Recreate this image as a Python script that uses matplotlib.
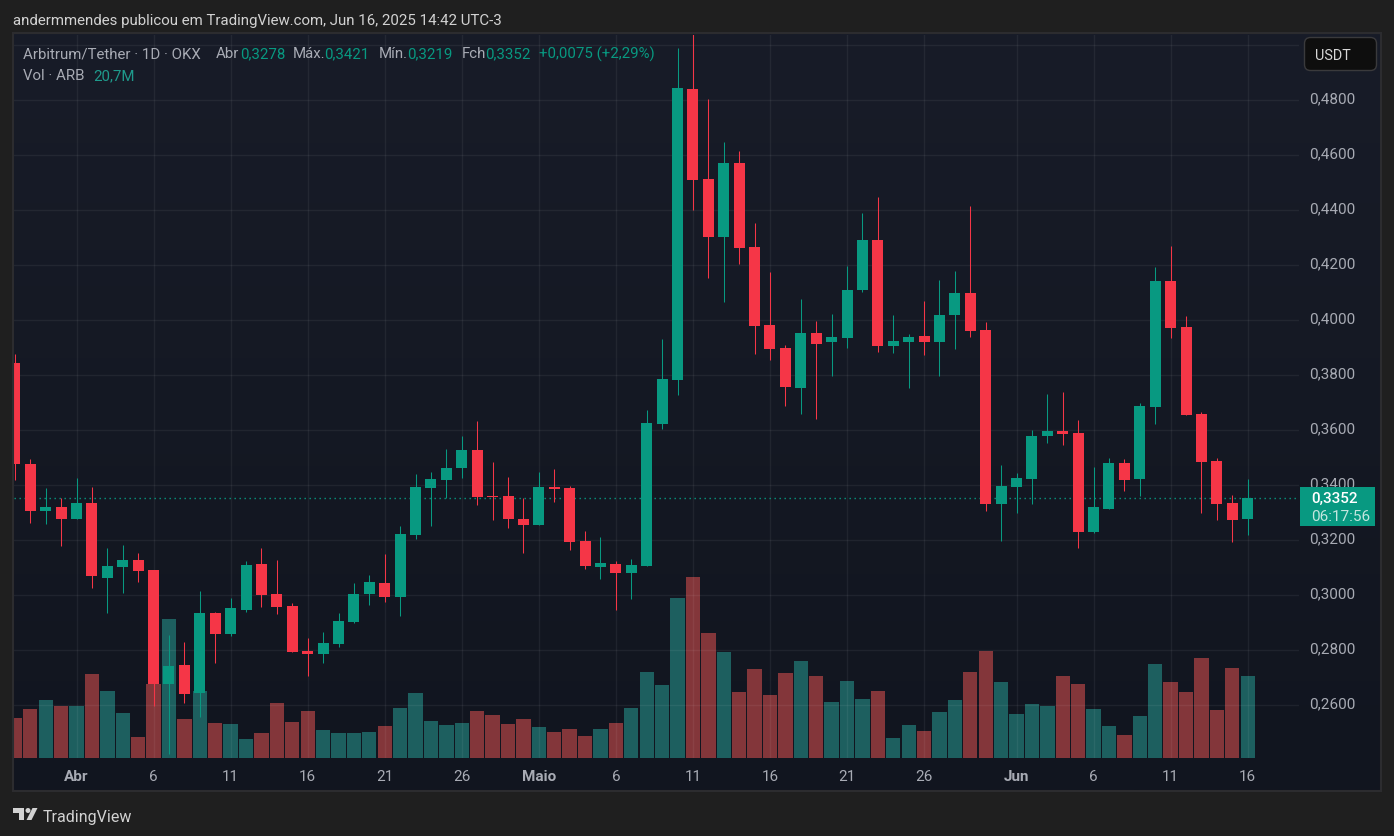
import numpy as np
import matplotlib
matplotlib.use("Agg")
import matplotlib.pyplot as plt
from matplotlib.patches import Rectangle, FancyBboxPatch, Polygon, Circle
from matplotlib.transforms import IdentityTransform, ScaledTranslation

# Daily ARB/USDT candles, Mar 28 - Jun 16 2025
opens = [.3845, .3478, .3307, .3321, .3278, .3336, .3063, .3103, .3128, .3092,
         .2678, .2747, .2645, .2936, .2859, .2947, .3114, .3005, .2961, .2798,
         .2787, .2823, .2903, .3005, .3045, .2994, .3219, .3390, .3419, .3463,
         .3528, .3361, .3361, .3278,
         .3256, .3394, .3390, .3198, .3103, .3114, .3081, .3107, .3623, .3783,
         .4841, .4514, .4303, .4572, .4267, .3983, .3899, .3754, .3954, .3921,
         .3936, .4110, .4292, .3907, .3921, .3943, .3921, .4019, .4099, .3965, .3332,
         .3394, .3423, .3579, .3598, .3590, .3230, .3314, .3481, .3423, .3685,
         .4143, .3976, .3659, .3488, .3336, .3278]
highs = [.3878, .3496, .3390, .3354, .3427, .3394, .3172, .3183, .3154, .3092,
         .2856, .2830, .3016, .2939, .2990, .3125, .3172, .3128, .2972, .2845,
         .2867, .2936, .3045, .3074, .3150, .3252, .3441, .3448, .3532, .3579,
         .3634, .3485, .3430, .3354,
         .3448, .3459, .3398, .3234, .3212, .3125, .3132, .3674, .3932, .4990,
         .5041, .4805, .4648, .4616, .4354, .4176, .3910, .4078, .3998, .4023,
         .4198, .4390, .4448, .4019, .3950, .4070, .4147, .4179, .4416, .3994, .3474,
         .3445, .3601, .3732, .3739, .3638, .3467, .3499, .3496, .3699, .4194,
         .4270, .4016, .3667, .3499, .3365, .3421]
lows = [.3419, .3263, .3259, .3179, .3278, .3027, .2936, .3008, .3048, .2598,
        .2423, .2608, .2558, .2754, .2852, .2939, .2958, .2932, .2794, .2707,
        .2754, .2812, .2899, .2965, .2976, .2925, .3205, .3252, .3354, .3427,
        .3328, .3274, .3245, .3154,
        .3256, .3339, .3165, .3096, .3059, .2947, .2987, .3107, .3605, .3728,
        .4401, .4154, .4067, .4205, .3878, .3856, .3688, .3659, .3641, .3798,
        .3899, .4103, .3885, .3881, .3754, .3874, .3798, .3896, .3939, .3307, .3198,
        .3299, .3332, .3554, .3547, .3172, .3227, .3314, .3379, .3361, .3623,
        .3936, .3656, .3299, .3274, .3194, .3219]
closes = [.3478, .3307, .3321, .3278, .3336, .3070, .3107, .3128, .3088, .2678,
          .2743, .2641, .2936, .2859, .2954, .3110, .3001, .2958, .2794, .2787,
          .2827, .2907, .3005, .3048, .2994, .3223, .3394, .3423, .3463, .3528,
          .3358, .3358, .3278, .3256,
          .3394, .3387, .3194, .3107, .3118, .3081, .3110, .3627, .3787, .4845,
          .4510, .4303, .4572, .4263, .3979, .3896, .3758, .3954, .3914, .3939,
          .4110, .4292, .3907, .3925, .3939, .3921, .4019, .4099, .3961, .3332, .3398,
          .3427, .3579, .3598, .3587, .3230, .3321, .3481, .3419, .3688, .4143,
          .3972, .3656, .3485, .3332, .3274, .3352]
# volume in millions of ARB
volumes = [10.1, 12.4, 14.6, 13.1, 13.1, 21.2, 16.9, 11.4, 5.3, 18.7,
           35.1, 9.8, 16.9, 8.8, 8.6, 4.8, 6.3, 13.9, 9.1, 11.9,
           7.1, 6.3, 6.3, 6.6, 8.1, 12.6, 16.4, 9.3, 8.3, 8.8,
           11.9, 10.9, 8.6, 9.8,
           7.8, 6.6, 7.3, 5.6, 7.3, 8.8, 12.6, 21.7, 18.4, 40.4,
           45.7, 31.6, 26.8, 16.7, 22.5, 15.9, 21.5, 24.5, 20.7, 14.1,
           19.4, 14.9, 16.9, 5.1, 8.3, 6.8, 11.6, 14.6, 21.7, 27.0, 19.2,
           11.1, 13.6, 13.1, 20.7, 18.7, 12.4, 8.1, 5.8, 10.6, 23.7,
           19.2, 16.7, 25.3, 12.1, 22.7, 20.7]

price_ticks = [.26, .28, .30, .32, .34, .36, .38, .40, .42, .44, .46, .48, .50]
price_labels = ["0,2600", "0,2800", "0,3000", "0,3200", "0,3400", "0,3600", "0,3800",
                "0,4000", "0,4200", "0,4400", "0,4600", "0,4800", ""]
day_ticks = [4, 9, 14, 19, 24, 29, 34, 39, 44, 49, 54, 59, 65, 70, 75, 80]
day_labels = ["Abr", "6", "11", "16", "21", "26", "Maio", "6", "11", "16", "21", "26",
              "Jun", "6", "11", "16"]
last_price = 0.3352

UP = "#089981"
DOWN = "#F53647"
UP_VOL = "#1D5F5F"
DOWN_VOL = "#83363A"
PAGE = "#1F1F1F"
BORDER = "#2C2C2F"
LABEL = "#A8ABB4"

W, H = 1394, 837
plt.rcParams["font.family"] = ["Roboto", "DejaVu Sans"]
fig = plt.figure(figsize=(W / 100, H / 100), dpi=100, facecolor=PAGE)


def box(x0, y0, x1, y1):
    # pixel box (y down) to figure fractions
    return [x0 / W, 1 - y1 / H, (x1 - x0) / W, (y1 - y0) / H]


def label(x, y, s, color=LABEL, size=10.8, **kw):
    fig.text(x / W, 1 - y / H, s, color=color, fontsize=size, va="center", ha="left", zorder=6, **kw)


# pane background with the soft vertical gradient
bg = fig.add_axes(box(14, 35, 1380, 791), zorder=-2)
bg.axis("off")
gradient = np.linspace(0, 1, 256).reshape(-1, 1)
top, bottom = np.array([0x18, 0x1C, 0x28]) / 255, np.array([0x11, 0x15, 0x1F]) / 255
bg.imshow(top + (bottom - top) * gradient[:, :, None], aspect="auto")

# volume sits under the candles
x = np.arange(len(opens))
is_up = np.array(closes) >= np.array(opens)
ax_vol = fig.add_axes(box(14, 35.7, 1299, 758.7), zorder=0)
ax_vol.patch.set_visible(False)
ax_vol.axis("off")
ax_vol.bar(x, volumes, width=0.93, color=[UP_VOL if u else DOWN_VOL for u in is_up], linewidth=0)
ax_vol.set_xlim(-0.058, 83.33)
ax_vol.set_ylim(0, 182.6)

ax = fig.add_axes(box(14, 35.7, 1299, 758.7), zorder=1)
ax.patch.set_visible(False)
ax.set_xlim(-0.058, 83.33)
ax.set_ylim(0.24084, 0.50375)
for side in ax.spines.values():
    side.set_visible(False)

ax.grid(True, color="#FFFFFF", alpha=0.06, linewidth=1, zorder=0)
ax.set_axisbelow(True)
ax.axhline(last_price, color=UP, linewidth=1, linestyle=(0, (1, 2.6)), zorder=1)

colors = [UP if u else DOWN for u in is_up]
wicks = ax.vlines(x, lows, highs, colors=colors, linewidth=0.75, zorder=2)
wicks.set_snap(True)
ax.bar(x, np.abs(np.array(closes) - np.array(opens)), bottom=np.minimum(opens, closes),
       width=0.714, color=colors, linewidth=0, zorder=3)

ax.yaxis.tick_right()
ax.set_yticks(price_ticks)
ax.set_yticklabels(price_labels, color=LABEL, fontsize=11)
ax.set_xticks(day_ticks)
ax.set_xticklabels(day_labels, color=LABEL, fontsize=11)
ax.tick_params(axis="both", length=0)
ax.tick_params(axis="y", pad=7.5)
ax.tick_params(axis="x", pad=8.2)
nudge = ScaledTranslation(0, 2.5 / 72, fig.dpi_scale_trans)
for tick in ax.get_yticklabels():
    tick.set_transform(tick.get_transform() + nudge)
for tick in ax.get_xticklabels():
    if tick.get_text() in ("Abr", "Maio", "Jun"):
        tick.set_fontweight("bold")

# frame around the pane
fig.add_artist(Rectangle((13, H - 792), 1368, 758, transform=IdentityTransform(),
                         fill=False, edgecolor=BORDER, linewidth=1.5, zorder=4))

# last price tag
fig.add_artist(Rectangle((1300, H - 527), 75, 39, transform=IdentityTransform(),
                         facecolor=UP, edgecolor="none", zorder=5))
label(1311, 498.5, "0,3352", color="#FFFFFF", size=11, fontweight="medium")
label(1311, 517, "06:17:56", color="#C4E6DF", size=11)

# currency button
fig.add_artist(FancyBboxPatch((1304.5, H - 71.5), 72, 33,
                              boxstyle="round,pad=0,rounding_size=6", transform=IdentityTransform(),
                              facecolor="#0E0E0E", edgecolor="#3A3A3C", linewidth=1, zorder=5))
label(1315, 56, "USDT", color="#D8D8D8", size=10.4)

# header and legend
label(13, 20.5, "andermmendes publicou em TradingView.com, Jun 16, 2025 14:42 UTC-3", color="#D2D2D2")
label(23, 54.5, "Arbitrum/Tether · 1D · OKX")
label(216, 54.5, "Abr")
label(240, 54.5, "0,3278", color=UP)
label(293, 54.5, "Máx.")
label(324.5, 54.5, "0,3421", color=UP)
label(378.5, 54.5, "Mín.")
label(407, 54.5, "0,3219", color=UP)
label(461.5, 54.5, "Fch")
label(485, 54.5, "0,3352", color=UP)
label(539, 54.5, "+0,0075 (+2,29%)", color=UP)
label(23, 76, "Vol · ARB")
label(93, 76, "20,7M", color="#1F9A8C")

# TradingView mark and name in the footer
logo = "#D2D2D2"
for pts in ([(13, 809), (24, 809), (24, 821), (19, 821), (19, 814), (13, 814)],
            [(37.5, 809), (32.5, 809), (26.5, 821), (31.5, 821)]):
    fig.add_artist(Polygon([(a, H - b) for a, b in pts], transform=IdentityTransform(),
                           facecolor=logo, edgecolor="none", zorder=5))
fig.add_artist(Circle((28, H - 811.5), 2.5, transform=IdentityTransform(),
                      facecolor=logo, edgecolor="none", zorder=5))
label(43, 817.5, "TradingView", color=logo, size=11.5)

fig.savefig("out.png", dpi=100, facecolor=PAGE)
